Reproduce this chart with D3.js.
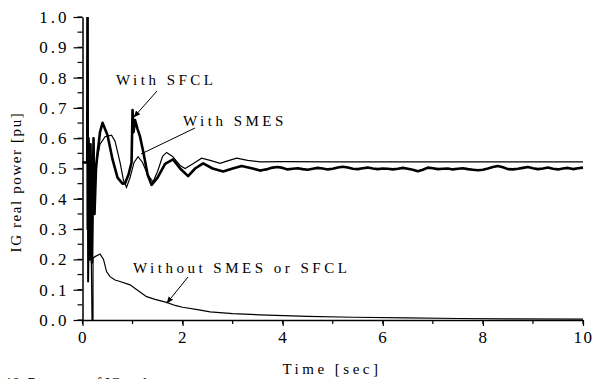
<!DOCTYPE html>
<html>
<head>
<meta charset="utf-8">
<script src="https://cdn.jsdelivr.net/npm/d3@7"></script>
<style>
  html,body{margin:0;padding:0;background:#fff;overflow:hidden;}
  svg{display:block;}
</style>
</head>
<body>
<div id="chart"></div>
<script>
// ── data (time [sec], IG real power [pu]) ──
const xTickValues=[0,2,4,6,8,10];
const yTickValues=[0,0.1,0.2,0.3,0.4,0.5,0.6,0.7,0.8,0.9,1.0];

// thick line: with SFCL
const sfclPoints=[
  [0,0.52],[0.095,0.52],[0.1,1.05],[0.105,0.3],[0.12,0.6],[0.14,0.2],[0.16,0.58],[0.19,0.19],
  [0.22,0.6],[0.24,0.35],[0.27,0.5],[0.3,0.55],[0.35,0.62],[0.4,0.651],[0.5,0.61],[0.6,0.53],
  [0.7,0.47],[0.8,0.45],[0.85,0.451],[0.92,0.48],[0.98,0.52],[1.0,0.693],[1.02,0.62],[1.05,0.66],
  [1.1,0.63],[1.15,0.605],[1.22,0.55],[1.3,0.48],[1.38,0.446],[1.5,0.47],[1.65,0.515],[1.81,0.53],
  [1.95,0.5],[2.11,0.475],[2.25,0.5],[2.41,0.517],[2.6,0.5],[2.81,0.49],[3.0,0.5],[3.18,0.508],
  [3.4,0.5],[3.55,0.493],
  [3.6,0.495],[3.7,0.498],[3.8,0.503],[3.9,0.505],[4.0,0.502],[4.1,0.497],[4.2,0.499],[4.3,0.501],
  [4.4,0.498],[4.5,0.496],[4.6,0.499],[4.7,0.502],[4.8,0.500],[4.9,0.497],[5.0,0.499],[5.1,0.503],
  [5.2,0.506],[5.3,0.503],[5.4,0.499],[5.5,0.498],[5.6,0.501],[5.7,0.503],[5.8,0.500],[5.9,0.498],
  [6.0,0.500],[6.1,0.499],[6.2,0.497],[6.3,0.499],[6.4,0.502],[6.5,0.499],[6.6,0.496],[6.7,0.491],
  [6.8,0.496],[6.9,0.503],[7.0,0.501],[7.1,0.498],[7.2,0.499],[7.3,0.500],[7.4,0.497],[7.5,0.499],
  [7.6,0.501],[7.7,0.498],[7.8,0.496],[7.9,0.494],[8.0,0.496],[8.1,0.500],[8.2,0.505],[8.3,0.508],
  [8.4,0.504],[8.5,0.498],[8.6,0.497],[8.7,0.499],[8.8,0.502],[8.9,0.505],[9.0,0.501],[9.1,0.498],
  [9.2,0.500],[9.3,0.503],[9.4,0.499],[9.5,0.497],[9.6,0.500],[9.7,0.502],[9.8,0.498],[9.9,0.501],
  [10.0,0.503]
];

// thin line: with SMES
const smesPoints=[
  [0,0.52],[0.1,0.52],[0.105,0.125],[0.13,0.55],[0.17,0.22],[0.2,0.5],[0.23,0.42],[0.28,0.52],
  [0.35,0.58],[0.45,0.605],[0.58,0.61],[0.65,0.59],[0.75,0.52],[0.82,0.46],[0.88,0.438],[0.95,0.47],
  [1.03,0.52],[1.11,0.539],[1.2,0.52],[1.3,0.48],[1.41,0.456],[1.5,0.49],[1.6,0.54],[1.68,0.553],
  [1.8,0.54],[1.95,0.51],[2.05,0.5],[2.2,0.515],[2.38,0.534],[2.55,0.527],[2.75,0.517],[2.9,0.525],
  [3.08,0.534],[3.3,0.527],[3.55,0.522],[4.0,0.523],[5.0,0.522],[6.0,0.522],[7.0,0.522],[8.0,0.522],
  [9.0,0.522],[10.0,0.522]
];

// thin line: without SMES or SFCL
const nonePoints=[
  [0,0.52],[0.1,0.52],[0.105,1.05],[0.12,0.125],[0.15,0.58],[0.19,0.0],[0.21,0.0],[0.21,0.205],
  [0.26,0.21],[0.35,0.218],[0.42,0.2],[0.48,0.16],[0.55,0.143],[0.65,0.132],[0.75,0.127],[0.95,0.116],
  [1.1,0.098],[1.28,0.077],[1.45,0.068],[1.68,0.058],[1.85,0.048],[2.0,0.042],[2.3,0.034],[2.55,0.027],
  [3.0,0.021],[3.55,0.017],[4.5,0.012],[5.4,0.009],[6.5,0.007],[7.5,0.005],[8.5,0.004],[10.0,0.003]
];

const labels=[
  {text:"With SFCL", x:116, y:85, from:[157,91], to:[134,117], arrow:true},
  {text:"With SMES", x:183, y:126, from:[195,128], to:[141,154], arrow:false},
  {text:"Without SMES or SFCL", x:133, y:273, from:[188,277], to:[167,303], arrow:true}
];

// ── layout ──
const W=593, H=379;
const MG={t:17, r:10, b:59, l:82.5};
const iW=583-MG.l, iH=320-MG.t;
const FONT="'Liberation Serif','Times New Roman',Times,serif";

const svg=d3.select("#chart").append("svg").attr("width",W).attr("height",H)
  .attr("font-family",FONT);
const g=svg.append("g").attr("transform",`translate(${MG.l},${MG.t})`);

const xSc=d3.scaleLinear().domain([0,10]).range([0,iW]);
const ySc=d3.scaleLinear().domain([0,1]).range([iH,0]);

svg.append("defs").append("clipPath").attr("id","plotclip")
  .append("rect").attr("x",0).attr("y",0).attr("width",iW+2).attr("height",iH);

// minor ticks
g.append("g").selectAll("line").data(d3.range(0,1.0001,0.05)).join("line")
  .attr("x1",-5).attr("x2",0).attr("y1",d=>ySc(d)).attr("y2",d=>ySc(d))
  .attr("stroke","#000").attr("stroke-width",1.2);
g.append("g").selectAll("line").data(d3.range(0,10.001,1)).join("line")
  .attr("x1",d=>xSc(d)).attr("x2",d=>xSc(d)).attr("y1",iH).attr("y2",iH+4)
  .attr("stroke","#000").attr("stroke-width",1.2);

// axes
const yAx=g.append("g")
  .call(d3.axisLeft(ySc).tickValues(yTickValues).tickSize(9).tickPadding(4).tickSizeOuter(0).tickFormat(d3.format(".1f")));
const xAx=g.append("g").attr("transform",`translate(0,${iH})`)
  .call(d3.axisBottom(xSc).tickValues(xTickValues).tickSize(6).tickPadding(5).tickSizeOuter(0).tickFormat(d3.format("d")));
[yAx,xAx].forEach(a=>{
  a.select(".domain").attr("stroke","#000").attr("stroke-width",1.5);
  a.selectAll(".tick line").attr("stroke","#000").attr("stroke-width",1.2);
  a.selectAll("text").attr("font-size",17).attr("font-family",FONT).attr("fill","#000");
});
yAx.selectAll("text").attr("letter-spacing","3px");
xAx.selectAll("text").attr("letter-spacing","1.5px");

// series
const line=d3.line().x(d=>xSc(d[0])).y(d=>ySc(d[1]));
const plot=g.append("g").attr("clip-path","url(#plotclip)");
plot.append("path").datum(nonePoints).attr("d",line)
  .attr("fill","none").attr("stroke","#000").attr("stroke-width",1.2);
plot.append("path").datum(smesPoints).attr("d",line)
  .attr("fill","none").attr("stroke","#000").attr("stroke-width",1.2);
plot.append("path").datum(sfclPoints).attr("d",line)
  .attr("fill","none").attr("stroke","#000").attr("stroke-width",2.6).attr("stroke-linejoin","round");

// annotations
svg.append("defs").append("marker").attr("id","arr").attr("viewBox","0 0 10 10")
  .attr("refX",9).attr("refY",5).attr("markerWidth",7).attr("markerHeight",7).attr("orient","auto")
  .append("path").attr("d","M0,1L10,5L0,9Z").attr("fill","#000");

labels.forEach(l=>{
  svg.append("text").attr("x",l.x).attr("y",l.y).attr("font-size",15)
    .attr("letter-spacing","3.5px").text(l.text);
  const ln=svg.append("line").attr("x1",l.from[0]).attr("y1",l.from[1])
    .attr("x2",l.to[0]).attr("y2",l.to[1]).attr("stroke","#000").attr("stroke-width",1);
  if(l.arrow) ln.attr("marker-end","url(#arr)");
});

// axis titles
svg.append("text").attr("x",332).attr("y",374).attr("text-anchor","middle")
  .attr("font-size",15).attr("letter-spacing","3.5px").text("Time [sec]");
svg.append("text").attr("transform","translate(21,182) rotate(-90)").attr("text-anchor","middle")
  .attr("font-size",15).attr("letter-spacing","1.6px").text("IG real power [pu]");

// caption, cut off by the bottom edge as in the source
svg.append("text").attr("x",5).attr("y",388).attr("font-size",15).text("10. Response of IG real power");
</script>
</body>
</html>
